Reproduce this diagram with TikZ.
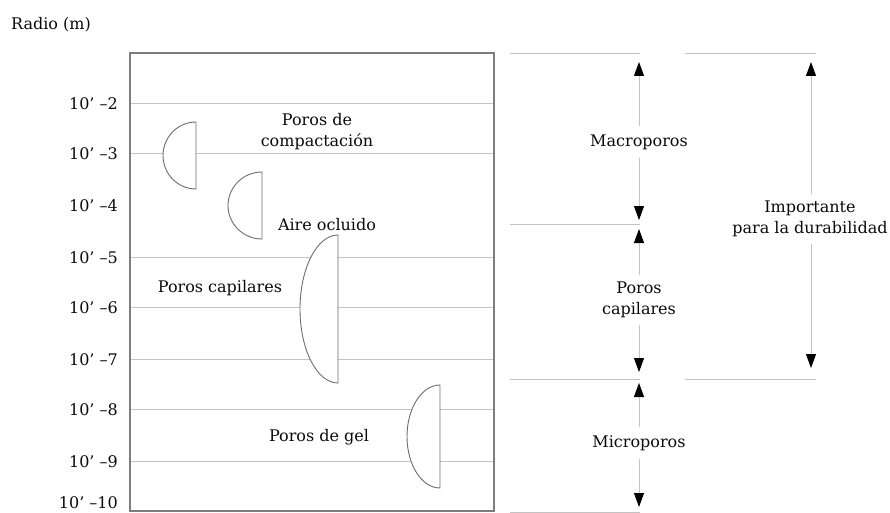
\documentclass[tikz,border=0pt]{standalone}
\usepackage{fontspec}
\newfontfamily\lblfont{DejaVu Serif}
\usetikzlibrary{arrows.meta}
\definecolor{gridgray}{RGB}{195,195,195}
\definecolor{framegray}{RGB}{125,125,125}
\definecolor{poregray}{RGB}{110,110,110}
\definecolor{txt}{RGB}{10,10,10}
\tikzset{
  lbl/.style={font=\lblfont\fontsize{16}{21}\selectfont, text=txt, align=center, inner sep=1pt},
  axislbl/.style={lbl, anchor=east},
  gridline/.style={draw=gridgray, line width=0.9pt},
  frameline/.style={draw=framegray, line width=1.4pt},
  pore/.style={draw=poregray, line width=0.9pt, fill=white},
  rangearrow/.style={draw=gridgray, line width=0.9pt, shorten <=3pt,
    -{Triangle[length=14pt,width=10pt,color=black]}},
}
\begin{document}
\begin{tikzpicture}[x=1pt,y=-1pt]
\useasboundingbox (0,0) rectangle (890,513);
% title
\node[lbl, anchor=west] (title) at (10,25) {Radio (m)};
% grid lines
\foreach \yy in {103,153,257,307,359,409,461}
  \draw[gridline] (130,\yy) -- (494,\yy);
% frame
\draw[frameline] (130,53) rectangle (494,511);
% axis labels
\node[axislbl] (t2) at (119,104) {10’ –2};
\node[axislbl] (t3) at (119,154) {10’ –3};
\node[axislbl] (t4) at (119,206) {10’ –4};
\node[axislbl] (t5) at (119,258) {10’ –5};
\node[axislbl] (t6) at (119,308) {10’ –6};
\node[axislbl] (t7) at (119,360) {10’ –7};
\node[axislbl] (t8) at (119,410) {10’ –8};
\node[axislbl] (t9) at (119,462) {10’ –9};
\node[axislbl] (t10) at (119,503) {10’ –10};
% pores (half ellipses)
\draw[pore] (196,189) arc[start angle=90,end angle=270,x radius=33,y radius=33.5] -- cycle;
\draw[pore] (262,239) arc[start angle=90,end angle=270,x radius=34,y radius=33.5] -- cycle;
\draw[pore] (338,383) arc[start angle=90,end angle=270,x radius=38,y radius=74] -- cycle;
\draw[pore] (440,488) arc[start angle=90,end angle=270,x radius=33,y radius=51.5] -- cycle;
% pore labels
\node[lbl] (compact) at (317,132) {Poros de\\compactación};
\node[lbl] (aire) at (327,225) {Aire ocluido};
\node[lbl] (capil) at (220,288) {Poros capilares};
\node[lbl] (gel) at (319,437) {Poros de gel};
% right-hand range lines
\draw[gridline] (510,53) -- (640,53);
\draw[gridline] (685,53) -- (816,53);
\draw[gridline] (510,224) -- (640,224);
\draw[gridline] (510,379) -- (640,379);
\draw[gridline] (685,379) -- (816,379);
\draw[gridline] (510,512) -- (640,512);
% range arrow end points
\coordinate (macroTop) at (639,62);
\coordinate (macroBot) at (639,220);
\coordinate (capTop) at (639,229);
\coordinate (capBot) at (639,372);
\coordinate (microTop) at (639,383);
\coordinate (microBot) at (639,507);
\coordinate (durTop) at (811,62);
\coordinate (durBot) at (811,368);
% range labels
\node[lbl, inner sep=5pt] (macro) at (639,142) {Macroporos};
\node[lbl, inner sep=4pt] (capr) at (639,300) {Poros\\capilares};
\node[lbl, inner sep=5pt] (micro) at (639,443) {Microporos};
\node[lbl, inner sep=4pt] (dur) at (810,219) {Importante\\para la durabilidad};
% arrows
\draw[rangearrow] (macro) -- (macroTop);
\draw[rangearrow] (macro) -- (macroBot);
\draw[rangearrow] (capr) -- (capTop);
\draw[rangearrow] (capr) -- (capBot);
\draw[rangearrow] (micro) -- (microTop);
\draw[rangearrow] (micro) -- (microBot);
\draw[rangearrow] (dur.north -| durTop) -- (durTop);
\draw[rangearrow] (dur.south -| durBot) -- (durBot);
\end{tikzpicture}
\end{document}
